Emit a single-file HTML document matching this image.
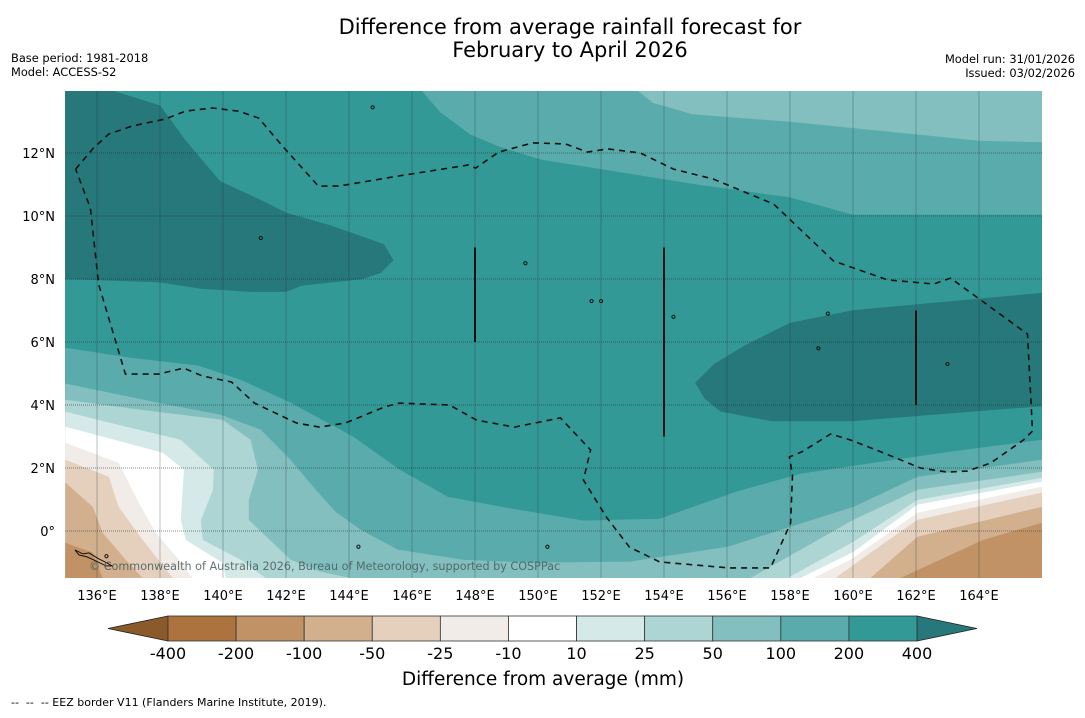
<!DOCTYPE html>
<html><head><meta charset="utf-8">
<style>
body{margin:0;background:#fff;width:1085px;height:713px;overflow:hidden;font-family:"Liberation Sans","DejaVu Sans",sans-serif;}
svg text{font-family:"DejaVu Sans","Liberation Sans",sans-serif;white-space:pre;}
</style></head>
<body>
<svg id="chart" width="1085" height="713" xmlns="http://www.w3.org/2000/svg">
  <text x="570" y="34" text-anchor="middle" font-size="21" fill="#000">Difference from average rainfall forecast for</text>
  <text x="570" y="57" text-anchor="middle" font-size="21" fill="#000">February to April 2026</text>
  <text x="11" y="62" font-size="11.4">Base period: 1981-2018</text>
  <text x="11" y="76" font-size="11.4">Model: ACCESS-S2</text>
  <text x="1075" y="63" text-anchor="end" font-size="11.4">Model run: 31/01/2026</text>
  <text x="1075" y="77" text-anchor="end" font-size="11.4">Issued: 03/02/2026</text>
  <defs><clipPath id="mapclip"><rect x="65" y="91" width="977" height="487"/></clipPath></defs>
  <g id="map" clip-path="url(#mapclip)"></g>
  <g id="axes"></g>
  <g id="cbar"></g>
  <text x="543" y="685" text-anchor="middle" font-size="18.5">Difference from average (mm)</text>
  <text x="11" y="706" font-size="11" xml:space="preserve">--  --  -- EEZ border V11 (Flanders Marine Institute, 2019).</text>
</svg>
<script>
const NS="http://www.w3.org/2000/svg";
// axis domains
const lonTicks=[136,138,140,142,144,146,148,150,152,154,156,158,160,162,164];
const latTicks=[0,2,4,6,8,10,12];
// colour levels (mm) and colours
const levelLabels=["-400","-200","-100","-50","-25","-10","10","25","50","100","200","400"];
const levelColors=["#ac733e","#c09266","#d2af8d","#e4d0bd","#f1ece8","#ffffff","#d4e9e8","#acd5d4","#84bfbf","#5aacac","#339996"];
// contour regions [lon,lat]
const c400Left=[[135,14],[136.4,14],[138,13.5],[138.8,12.4],[139.9,11.1],[141.2,10.5],[142,10.1],[143.4,9.7],[145.1,9.1],[145.4,8.6],[145,8.2],[144.4,8.0],[142.5,7.8],[142,7.6],[140.9,7.6],[139.3,7.7],[138,7.9],[136.1,7.97],[135,8]];
const c400Right=[[155,4.7],[155.6,5.3],[156.6,5.9],[158,6.6],[160,7.0],[166,7.55],[166,3.97],[160,3.5],[157.4,3.5],[155.8,3.8],[155.3,4.2]];
const c100Top=[[146.3,14],[146.9,13.3],[147.85,12.6],[148.8,12.2],[150.1,11.8],[152,11.5],[155.1,11],[158,10.6],[160,10.05],[166,10.05],[166,14]];
const c50Top=[[153.15,14],[153.65,13.6],[154.9,13.24],[158,13],[162,12.6],[164,12.4],[166,12.35],[166,14]];
const c100Bot=[[135,5.81],[137.06,5.49],[139.22,5.24],[140.56,4.79],[142.08,4.1],[144.14,2.98],[145.6,1.94],[147.13,1.08],[149.0,0.73],[151.44,0.32],[153.86,0.38],[156.3,1.24],[158.33,1.81],[160.02,2.06],[163.1,2.51],[166,2.89],[166,-1.5],[135,-1.5]];
const c50Bot=[[135,4.67],[137.95,4.06],[139.92,3.68],[141.19,3.21],[142.14,2.25],[142.94,1.3],[143.57,0.6],[144.37,0.03],[145.54,-0.6],[147.63,-0.92],[149.76,-1.02],[152.94,-0.98],[156.02,-0.51],[160.02,0.76],[162.05,1.71],[166,2.25],[166,-1.5],[135,-1.5]];
const c25L=[[135,4.16],[137.38,3.84],[139.98,3.52],[140.87,2.89],[141.1,1.94],[140.81,0.98],[140.81,0.35],[142.14,-0.92],[143.1,-1.3],[144.05,-1.5],[135,-1.5]];
const c25R=[[156.75,-1.5],[160.02,0.35],[162.05,1.3],[166,1.87],[166,-1.5]];
const c10L=[[135,3.78],[136.02,3.52],[138.65,2.89],[139.7,1.94],[139.67,1.3],[139.29,0.35],[139.35,-0.29],[140.56,-0.92],[141.35,-1.5],[135,-1.5]];
const c10R=[[157.92,-1.5],[160.02,-0.35],[162.05,0.98],[166,1.68],[166,-1.5]];
const c0L=[[135,3.3],[138.08,2.48],[138.75,1.94],[138.65,0.35],[138.81,-0.29],[139.98,-1.02],[140.08,-1.5],[135,-1.5]];
const c0R=[[158.33,-1.5],[160.02,-0.67],[162.05,0.83],[166,1.56],[166,-1.5]];
const cm10L=[[135,2.79],[136.68,2.16],[137.32,0.89],[137.86,-0.06],[138.59,-0.92],[139.03,-1.5],[135,-1.5]];
const cm10R=[[158.75,-1.5],[159.92,-0.92],[162.05,0.57],[166,1.4],[166,-1.5]];
const cm25L=[[135,2.25],[136.37,1.71],[136.68,0.76],[137.44,-0.29],[138.4,-1.5],[135,-1.5]];
const cm25R=[[159.44,-1.5],[160.56,-0.7],[162.05,0.35],[166,1.21],[166,-1.5]];
const cm50L=[[135,1.52],[135.86,0.76],[136.17,-0.06],[136.9,-0.92],[137.44,-1.5],[135,-1.5]];
const cm50R=[[160.56,-1.5],[162.05,-0.19],[166,0.76],[166,-1.5]];
const cm100L=[[135,-0.38],[135.86,-0.7],[136.17,-1.5],[135,-1.5]];
const cm100R=[[161.51,-1.5],[164.14,-0.29],[166,0.25],[166,-1.5]];
const eez=[[135.32,11.49],[135.89,12.16],[136.37,12.6],[137.13,12.86],[138.17,13.08],[138.81,13.33],[139.67,13.43],[140.49,13.33],[141.13,13.11],[141.89,12.22],[143.03,10.95],[143.67,10.95],[145.57,11.27],[147.79,11.62],[148.02,11.52],[148.75,12.03],[149.83,12.32],[150.87,12.29],[151.57,12.03],[152.21,12.13],[153.25,12.0],[154.3,11.49],[155.57,11.17],[157.48,10.38],[159.38,8.57],[161.1,7.97],[162.56,7.84],[163.1,8.03],[165.54,6.25],[165.7,3.17],[165.41,2.89],[164.37,2.16],[163.63,1.9],[163.0,1.87],[162.14,2.0],[160.97,2.48],[159.92,2.89],[159.29,3.08],[158.37,2.51],[157.98,2.35],[158.08,1.78],[158.02,0.25],[157.38,-1.17],[156.05,-1.17],[153.86,-0.98],[152.9,-0.51],[152.17,0.44],[151.44,1.62],[151.67,2.57],[150.71,3.59],[149.25,3.3],[148.05,3.52],[147.19,4.0],[145.6,4.06],[145.13,3.94],[143.89,3.43],[143.06,3.3],[142.33,3.43],[141.0,4.06],[140.27,4.73],[139.35,4.92],[138.75,5.17],[137.95,4.98],[136.9,4.98],[136.37,6.76],[136.05,7.84],[135.79,10.25],[135.32,11.49]];
const borderLons=[148,154,162];
const borderLat1=[6,3,4];
const borderLat2=[9,9,7];
const islands=[[144.75,13.45],[141.2,9.3],[159.2,6.9],[149.6,8.5],[152.0,7.3],[151.7,7.3],[158.9,5.8],[154.3,6.8],[163.0,5.3],[144.3,-0.5],[136.3,-0.8],[150.3,-0.5]];

const X=lon=>65.5+(lon-135)*31.5;
const Y=lat=>531-lat*31.5;
const map=document.getElementById('map');
function poly(pts,fill,name){
  const p=document.createElementNS(NS,'polygon');
  p.setAttribute('points',pts.map(d=>X(d[0]).toFixed(1)+','+Y(d[1]).toFixed(1)).join(' '));
  p.setAttribute('fill',fill);
  p.setAttribute('stroke',fill);p.setAttribute('stroke-width','0.6');
  
  
  map.appendChild(p);
}
const bg=document.createElementNS(NS,'rect');
bg.setAttribute('x',65);bg.setAttribute('y',91);bg.setAttribute('width',977);bg.setAttribute('height',487);bg.setAttribute('fill',levelColors[10]);


map.appendChild(bg);
const dark="#27787a";
poly(c400Left,dark,'contour-400-plus-west');
poly(c400Right,dark,'contour-400-plus-east');
poly(c100Top,levelColors[9],'contour-100-200-north');
poly(c50Top,levelColors[8],'contour-50-100-north');
poly(c100Bot,levelColors[9],'contour-100-200-south');
poly(c50Bot,levelColors[8],'contour-50-100-south');
poly(c25L,levelColors[7],'contour-25-50-west');
poly(c25R,levelColors[7],'contour-25-50-east');
poly(c10L,levelColors[6],'contour-10-25-west');
poly(c10R,levelColors[6],'contour-10-25-east');
poly(c0L,levelColors[5],'contour-neutral-west');
poly(c0R,levelColors[5],'contour-neutral-east');
poly(cm10L,levelColors[4],'contour-minus10-25-west');
poly(cm10R,levelColors[4],'contour-minus10-25-east');
poly(cm25L,levelColors[3],'contour-minus25-50-west');
poly(cm25R,levelColors[3],'contour-minus25-50-east');
poly(cm50L,levelColors[2],'contour-minus50-100-west');
poly(cm50R,levelColors[2],'contour-minus50-100-east');
poly(cm100L,levelColors[1],'contour-minus100-200-west');
poly(cm100R,levelColors[1],'contour-minus100-200-east');

// gridlines
lonTicks.forEach(l=>{
  const g=document.createElementNS(NS,'line');
  g.setAttribute('x1',X(l));g.setAttribute('x2',X(l));g.setAttribute('y1',91);g.setAttribute('y2',578);
  g.setAttribute('stroke','rgba(30,50,50,0.3)');g.setAttribute('stroke-width','1');
  
  
  map.appendChild(g);
});
latTicks.forEach(l=>{
  const g=document.createElementNS(NS,'line');
  g.setAttribute('x1',65);g.setAttribute('x2',1042);g.setAttribute('y1',Y(l));g.setAttribute('y2',Y(l));
  g.setAttribute('stroke','rgba(30,50,50,0.55)');g.setAttribute('stroke-width','1');g.setAttribute('stroke-dasharray','1,1');
  
  
  map.appendChild(g);
});
// borders
borderLons.forEach((l,i)=>{
  const b=document.createElementNS(NS,'line');
  b.setAttribute('x1',X(l));b.setAttribute('x2',X(l));b.setAttribute('y1',Y(borderLat1[i]));b.setAttribute('y2',Y(borderLat2[i]));
  b.setAttribute('stroke','#111');b.setAttribute('stroke-width','2');
  
  
  map.appendChild(b);
});
islands.forEach(d=>{
  const c=document.createElementNS(NS,'circle');
  c.setAttribute('cx',X(d[0]));c.setAttribute('cy',Y(d[1]));c.setAttribute('r',1.6);
  c.setAttribute('fill','none');c.setAttribute('stroke','#111');c.setAttribute('stroke-width','1');
  
  
  map.appendChild(c);
});
const sol=document.createElementNS(NS,'path');
sol.setAttribute('d','M'+X(135.3)+','+Y(-0.6)+' l8,4 l6,-1 l10,6 l8,4 l5,3 l-6,0 l-10,-5 l-9,-4 l-8,-2 z');
sol.setAttribute('fill','none');sol.setAttribute('stroke','#111');sol.setAttribute('stroke-width','1');


map.appendChild(sol);
// EEZ
const ez=document.createElementNS(NS,'polyline');
ez.setAttribute('points',eez.map(d=>X(d[0]).toFixed(1)+','+Y(d[1]).toFixed(1)).join(' '));
ez.setAttribute('fill','none');ez.setAttribute('stroke','#111');ez.setAttribute('stroke-width','1.6');ez.setAttribute('stroke-dasharray','6,5');


map.appendChild(ez);
// copyright
const cp=document.createElementNS(NS,'text');
cp.setAttribute('x',89);cp.setAttribute('y',570);cp.setAttribute('font-size','11.2');cp.setAttribute('fill','rgba(70,90,90,0.85)');
cp.textContent='© Commonwealth of Australia 2026, Bureau of Meteorology, supported by COSPPac';


map.appendChild(cp);

// axes labels
const axes=document.getElementById('axes');
lonTicks.forEach(l=>{
  const t=document.createElementNS(NS,'text');
  t.setAttribute('x',X(l));t.setAttribute('y',600);t.setAttribute('text-anchor','middle');t.setAttribute('font-size','13');
  t.textContent=l+'°E';
  
  
  axes.appendChild(t);
});
latTicks.forEach(l=>{
  const t=document.createElementNS(NS,'text');
  t.setAttribute('x',55);t.setAttribute('y',Y(l)+5);t.setAttribute('text-anchor','end');t.setAttribute('font-size','13');
  t.textContent=l===0?'0°':l+'°N';
  
  
  axes.appendChild(t);
});

// colorbar
const cb=document.getElementById('cbar');
const cx0=168,cx1=917,cy0=616,cy1=641,bw=(cx1-cx0)/levelColors.length;
const lt=document.createElementNS(NS,'polygon');
lt.setAttribute('points',`${cx0},${cy0} ${cx0},${cy1} 108,${(cy0+cy1)/2}`);
lt.setAttribute('fill','#8b5a2b');lt.setAttribute('stroke','#222');lt.setAttribute('stroke-width','0.8');


cb.appendChild(lt);
const rt=document.createElementNS(NS,'polygon');
rt.setAttribute('points',`${cx1},${cy0} ${cx1},${cy1} 977,${(cy0+cy1)/2}`);
rt.setAttribute('fill',dark);rt.setAttribute('stroke','#222');rt.setAttribute('stroke-width','0.8');


cb.appendChild(rt);
levelColors.forEach((c,i)=>{
  const r=document.createElementNS(NS,'rect');
  r.setAttribute('x',cx0+i*bw);r.setAttribute('y',cy0);r.setAttribute('width',bw);r.setAttribute('height',cy1-cy0);
  r.setAttribute('fill',c);r.setAttribute('stroke','#333');r.setAttribute('stroke-width','0.8');
  
  
  cb.appendChild(r);
});
levelLabels.forEach((s,i)=>{
  const t=document.createElementNS(NS,'text');
  t.setAttribute('x',cx0+i*bw);t.setAttribute('y',659);t.setAttribute('text-anchor','middle');t.setAttribute('font-size','16');
  t.textContent=s;
  
  
  cb.appendChild(t);
});
</script>
</body></html>
